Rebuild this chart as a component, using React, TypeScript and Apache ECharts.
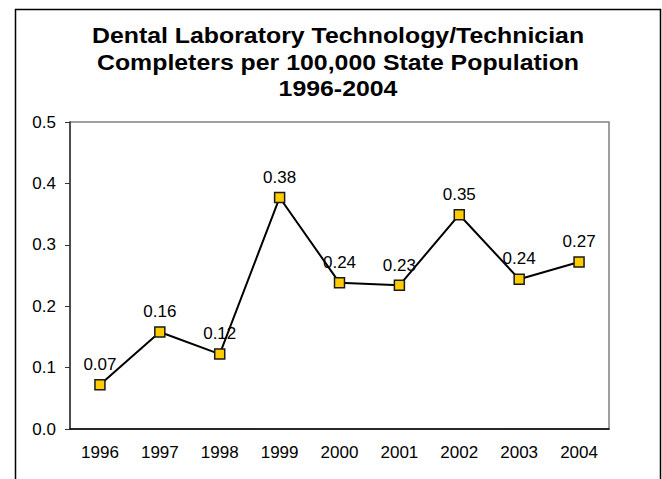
import React, { useEffect, useRef } from "react";
import * as echarts from "echarts";

const years = ["1996", "1997", "1998", "1999", "2000", "2001", "2002", "2003", "2004"];
const values = [0.072, 0.158, 0.122, 0.377, 0.238, 0.234, 0.349, 0.244, 0.272];
const titleLines = [
  "Dental Laboratory Technology/Technician",
  "Completers per 100,000 State Population",
  "1996-2004",
];

const FONT = '"Liberation Sans", Arial, sans-serif';

export default function App() {
  const ref = useRef<HTMLDivElement>(null);
  useEffect(() => {
    const chart = echarts.init(ref.current!, null, { renderer: "svg" });
    const titleY = [35.5, 62.2, 88.9];
    chart.setOption({
      animation: false,
      backgroundColor: "#ffffff",
      textStyle: { fontFamily: FONT },
      graphic: [
        {
          type: "rect",
          left: 13,
          top: 7,
          shape: { width: 645, height: 520 },
          style: { fill: "none", stroke: "#000", lineWidth: 1.5 },
          z: -1,
        },
        ...titleLines.map((t, i) => ({
          type: "text",
          x: 338,
          y: titleY[i],
          scaleX: 1.13,
          style: {
            text: t,
            fill: "#000",
            fontSize: 22,
            fontWeight: "bold",
            fontFamily: FONT,
            align: "center",
            verticalAlign: "middle",
          },
        })),
      ],
      grid: {
        left: 70,
        top: 122,
        right: 53,
        bottom: 50,
        show: true,
        borderColor: "#808080",
        borderWidth: 1.5,
        backgroundColor: "#fff",
      },
      xAxis: {
        type: "category",
        data: years,
        boundaryGap: true,
        axisLine: { lineStyle: { color: "#000", width: 1.5 } },
        axisTick: { show: false },
        axisLabel: { color: "#000", fontSize: 17, margin: 15, fontFamily: FONT },
        splitLine: { show: false },
      },
      yAxis: {
        type: "value",
        min: 0,
        max: 0.5,
        interval: 0.1,
        axisLine: { show: true, lineStyle: { color: "#333", width: 1.5 } },
        axisTick: { show: true, length: 5, lineStyle: { color: "#333" } },
        axisLabel: {
          color: "#000",
          fontSize: 17,
          margin: 14,
          fontFamily: FONT,
          formatter: (v: number) => v.toFixed(1),
        },
        splitLine: { show: false },
      },
      series: [
        {
          type: "line",
          data: values,
          symbol: "rect",
          symbolSize: 10,
          itemStyle: { color: "#FFCC00", borderColor: "#1a1a1a", borderWidth: 1.5 },
          lineStyle: { color: "#000", width: 2 },
          label: {
            show: true,
            position: "top",
            distance: 6,
            color: "#000",
            fontSize: 17,
            fontFamily: FONT,
            formatter: (p: any) => p.value.toFixed(2),
          },
        },
      ],
    });
    return () => chart.dispose();
  }, []);
  return (
    <div
      ref={ref}
      style={{ position: "absolute", left: 0, top: 0, width: 662, height: 479 }}
    />
  );
}
